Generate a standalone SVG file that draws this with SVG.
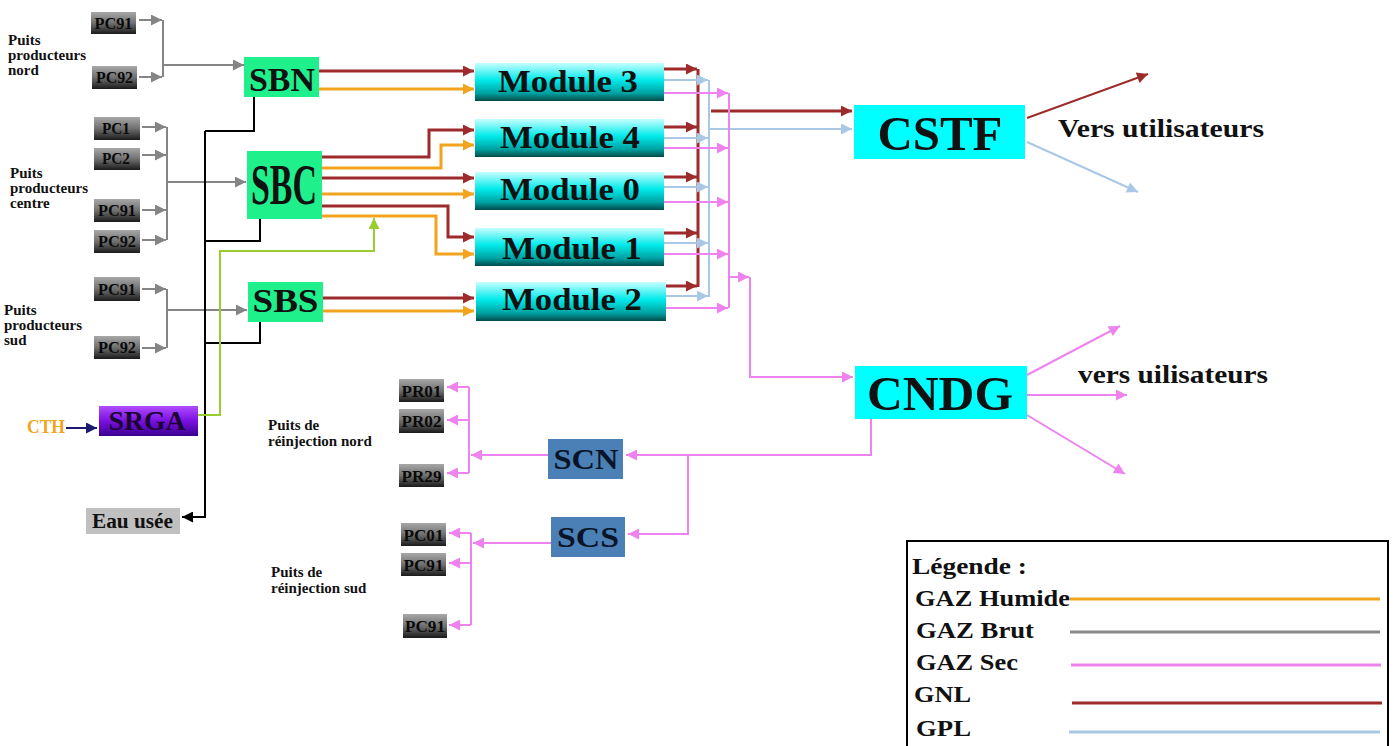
<svg xmlns="http://www.w3.org/2000/svg" width="1394" height="746" viewBox="0 0 1394 746">
<defs>
<style>
.t{font-family:"Liberation Serif","Times New Roman",serif;font-weight:bold;fill:#111}
.lbl{font-size:15px}
.pc{font-size:16px;text-anchor:middle;fill:#0a0a0a}
.big{text-anchor:middle}
.mod{font-size:31px;text-anchor:middle}
.leg{font-size:23px}
.gray{stroke:#858585;stroke-width:2}
.blk{stroke:#000;stroke-width:2}
.red{stroke:#9E2B2B;stroke-width:3}
.org{stroke:#F2A41E;stroke-width:3}
.pnk{stroke:#EE82EE;stroke-width:2}
.blu{stroke:#A9C8E6;stroke-width:2}
.grn{stroke:#9ACD32;stroke-width:2}
.nav{stroke:#1A1A6E;stroke-width:2}
</style>
<linearGradient id="gPC" x1="0" y1="0" x2="0" y2="1"><stop offset="0" stop-color="#a8a8a8"/><stop offset="0.5" stop-color="#707070"/><stop offset="1" stop-color="#1a1a1a"/></linearGradient>
<linearGradient id="gMod" x1="0" y1="0" x2="0" y2="1"><stop offset="0" stop-color="#C6FFFF"/><stop offset="0.45" stop-color="#00EAEA"/><stop offset="0.8" stop-color="#00A0A0"/><stop offset="1" stop-color="#004A4A"/></linearGradient>
<linearGradient id="gSR" x1="0" y1="0" x2="0" y2="1"><stop offset="0" stop-color="#B04CFF"/><stop offset="0.5" stop-color="#7A10E0"/><stop offset="1" stop-color="#3A0090"/></linearGradient>
<marker id="aG" viewBox="0 0 10 10" refX="10" refY="5" markerWidth="15" markerHeight="11" markerUnits="userSpaceOnUse" orient="auto"><path d="M0,0L10,5L0,10z" fill="#858585"/></marker>
<marker id="aK" viewBox="0 0 10 10" refX="10" refY="5" markerWidth="13" markerHeight="11" markerUnits="userSpaceOnUse" orient="auto"><path d="M0,0L10,5L0,10z" fill="#000"/></marker>
<marker id="aR" viewBox="0 0 10 10" refX="10" refY="5" markerWidth="14" markerHeight="11" markerUnits="userSpaceOnUse" orient="auto"><path d="M0,0L10,5L0,10z" fill="#9E2B2B"/></marker>
<marker id="aO" viewBox="0 0 10 10" refX="10" refY="5" markerWidth="14" markerHeight="11" markerUnits="userSpaceOnUse" orient="auto"><path d="M0,0L10,5L0,10z" fill="#F2A41E"/></marker>
<marker id="aP" viewBox="0 0 10 10" refX="10" refY="5" markerWidth="13" markerHeight="11" markerUnits="userSpaceOnUse" orient="auto"><path d="M0,0L10,5L0,10z" fill="#EE82EE"/></marker>
<marker id="aB" viewBox="0 0 10 10" refX="10" refY="5" markerWidth="13" markerHeight="11" markerUnits="userSpaceOnUse" orient="auto"><path d="M0,0L10,5L0,10z" fill="#A9C8E6"/></marker>
<marker id="aV" viewBox="0 0 10 10" refX="10" refY="5" markerWidth="13" markerHeight="11" markerUnits="userSpaceOnUse" orient="auto"><path d="M0,0L10,5L0,10z" fill="#9ACD32"/></marker>
<marker id="aN" viewBox="0 0 10 10" refX="10" refY="5" markerWidth="13" markerHeight="11" markerUnits="userSpaceOnUse" orient="auto"><path d="M0,0L10,5L0,10z" fill="#1A1A6E"/></marker>
</defs>
<rect width="1394" height="746" fill="#fff"/>

<g id="labels">
<text class="t lbl" x="8" y="45">Puits</text>
<text class="t lbl" x="8" y="60">producteurs</text>
<text class="t lbl" x="8" y="75">nord</text>
<text class="t lbl" x="10" y="178">Puits</text>
<text class="t lbl" x="10" y="193">producteurs</text>
<text class="t lbl" x="10" y="208">centre</text>
<text class="t lbl" x="4" y="315">Puits</text>
<text class="t lbl" x="4" y="330">producteurs</text>
<text class="t lbl" x="4" y="345">sud</text>
<text class="t lbl" x="268" y="430">Puits de</text>
<text class="t lbl" x="268" y="446">réinjection nord</text>
<text class="t lbl" x="271" y="577">Puits de</text>
<text class="t lbl" x="271" y="593">réinjection sud</text>
<text class="t" x="1058" y="137" font-size="25" textLength="206" lengthAdjust="spacingAndGlyphs">Vers utilisateurs</text>
<text class="t" x="1078" y="383" font-size="25" textLength="190" lengthAdjust="spacingAndGlyphs">vers uilisateurs</text>
<text class="t" x="27" y="433" font-size="18" style="fill:#F2A41E" textLength="38" lengthAdjust="spacingAndGlyphs">CTH</text>
</g>

<g id="connectors" fill="none">
<path class="gray" d="M163,20V77"/>
<path class="gray" d="M139,20H162" marker-end="url(#aG)"/>
<path class="gray" d="M139,77H162" marker-end="url(#aG)"/>
<path class="gray" d="M163,65H244" marker-end="url(#aG)"/>
<path class="gray" d="M167,127V240"/>
<path class="gray" d="M142,127H166" marker-end="url(#aG)"/>
<path class="gray" d="M142,155H166" marker-end="url(#aG)"/>
<path class="gray" d="M142,210H166" marker-end="url(#aG)"/>
<path class="gray" d="M142,240H166" marker-end="url(#aG)"/>
<path class="gray" d="M167,182H246" marker-end="url(#aG)"/>
<path class="gray" d="M167,289V348"/>
<path class="gray" d="M142,289H166" marker-end="url(#aG)"/>
<path class="gray" d="M142,348H166" marker-end="url(#aG)"/>
<path class="gray" d="M167,310H247" marker-end="url(#aG)"/>

<path class="blk" d="M254,97V131H205M260,219V241H205M260,322V343H205"/>
<path class="blk" d="M205,131V517H182" marker-end="url(#aK)"/>
<path class="grn" d="M198,415H220V251H374V218" marker-end="url(#aV)"/>
<path class="nav" d="M66,428H97" marker-end="url(#aN)"/>

<path class="red" d="M319,71H474" marker-end="url(#aR)"/>
<path class="org" d="M319,89H474" marker-end="url(#aO)"/>
<path class="red" d="M322,157H429V130H474" marker-end="url(#aR)"/>
<path class="org" d="M322,168H441V145H474" marker-end="url(#aO)"/>
<path class="red" d="M322,178H474" marker-end="url(#aR)"/>
<path class="org" d="M322,194H474" marker-end="url(#aO)"/>
<path class="red" d="M322,206H448V237H474" marker-end="url(#aR)"/>
<path class="org" d="M322,216H436V254H474" marker-end="url(#aO)"/>
<path class="red" d="M323,298H474" marker-end="url(#aR)"/>
<path class="org" d="M323,311H474" marker-end="url(#aO)"/>

<path class="red" d="M698,69V287"/>
<path class="red" d="M664,69H697" marker-end="url(#aR)"/>
<path class="red" d="M664,127H697" marker-end="url(#aR)"/>
<path class="red" d="M664,177H697" marker-end="url(#aR)"/>
<path class="red" d="M664,233H697" marker-end="url(#aR)"/>
<path class="red" d="M664,286H697" marker-end="url(#aR)"/>
<path class="red" d="M711,111H852" marker-end="url(#aR)"/>

<path class="blu" d="M709,80V297"/>
<path class="blu" d="M664,80H708" marker-end="url(#aB)"/>
<path class="blu" d="M664,138H708" marker-end="url(#aB)"/>
<path class="blu" d="M664,187H708" marker-end="url(#aB)"/>
<path class="blu" d="M664,243H708" marker-end="url(#aB)"/>
<path class="blu" d="M664,296H708" marker-end="url(#aB)"/>
<path class="blu" d="M709,129H852" marker-end="url(#aB)"/>

<path class="pnk" d="M729,93V308"/>
<path class="pnk" d="M664,93H728" marker-end="url(#aP)"/>
<path class="pnk" d="M664,148H728" marker-end="url(#aP)"/>
<path class="pnk" d="M664,202H728" marker-end="url(#aP)"/>
<path class="pnk" d="M664,254H728" marker-end="url(#aP)"/>
<path class="pnk" d="M664,308H728" marker-end="url(#aP)"/>
<path class="pnk" d="M729,277H749" marker-end="url(#aP)"/>
<path class="pnk" d="M750,277V377H853" marker-end="url(#aP)"/>

<path class="red" style="stroke-width:2" d="M1027,118L1148,74" marker-end="url(#aR)"/>
<path class="blu" d="M1027,142L1138,192" marker-end="url(#aB)"/>
<path class="pnk" d="M1027,375L1120,326" marker-end="url(#aP)"/>
<path class="pnk" d="M1027,395H1127" marker-end="url(#aP)"/>
<path class="pnk" d="M1027,415L1125,474" marker-end="url(#aP)"/>

<path class="pnk" d="M871,419V455H626" marker-end="url(#aP)"/>
<path class="pnk" d="M688,455V534H628" marker-end="url(#aP)"/>
<path class="pnk" d="M548,455H471" marker-end="url(#aP)"/>
<path class="pnk" d="M469,387V473"/>
<path class="pnk" d="M469,387H447" marker-end="url(#aP)"/>
<path class="pnk" d="M469,420H447" marker-end="url(#aP)"/>
<path class="pnk" d="M469,473H447" marker-end="url(#aP)"/>
<path class="pnk" d="M551,543H473" marker-end="url(#aP)"/>
<path class="pnk" d="M471,533V625"/>
<path class="pnk" d="M471,533H449" marker-end="url(#aP)"/>
<path class="pnk" d="M471,563H449" marker-end="url(#aP)"/>
<path class="pnk" d="M471,625H449" marker-end="url(#aP)"/>
</g>

<g id="PC91n"><rect x="91" y="12" width="45" height="22" fill="url(#gPC)"/><text class="t pc" x="113.5" y="29" textLength="38" lengthAdjust="spacingAndGlyphs">PC91</text></g>
<g id="PC92n"><rect x="92" y="66" width="45" height="23" fill="url(#gPC)"/><text class="t pc" x="114.5" y="83" textLength="37" lengthAdjust="spacingAndGlyphs">PC92</text></g>
<g id="PC1"><rect x="94" y="117" width="46" height="23" fill="url(#gPC)"/><text class="t pc" x="116" y="134" textLength="28" lengthAdjust="spacingAndGlyphs">PC1</text></g>
<g id="PC2"><rect x="94" y="148" width="46" height="22" fill="url(#gPC)"/><text class="t pc" x="116" y="164" textLength="28" lengthAdjust="spacingAndGlyphs">PC2</text></g>
<g id="PC91c"><rect x="94" y="199" width="46" height="23" fill="url(#gPC)"/><text class="t pc" x="117" y="216" textLength="38" lengthAdjust="spacingAndGlyphs">PC91</text></g>
<g id="PC92c"><rect x="94" y="230" width="46" height="23" fill="url(#gPC)"/><text class="t pc" x="117" y="247" textLength="38" lengthAdjust="spacingAndGlyphs">PC92</text></g>
<g id="PC91s"><rect x="94" y="277" width="46" height="24" fill="url(#gPC)"/><text class="t pc" x="117" y="295" textLength="38" lengthAdjust="spacingAndGlyphs">PC91</text></g>
<g id="PC92s"><rect x="94" y="336" width="46" height="23" fill="url(#gPC)"/><text class="t pc" x="117" y="353" textLength="38" lengthAdjust="spacingAndGlyphs">PC92</text></g>

<g id="SBN"><rect x="244" y="57" width="75" height="40" fill="#20F08C"/><text class="t big" x="282" y="91" font-size="34" textLength="66" lengthAdjust="spacingAndGlyphs">SBN</text></g>
<g id="SBC"><rect x="247" y="151" width="75" height="68" fill="#20F08C"/><text class="t big" x="284" y="204" font-size="58" textLength="66" lengthAdjust="spacingAndGlyphs">SBC</text></g>
<g id="SBS"><rect x="248" y="282" width="75" height="40" fill="#20F08C"/><text class="t big" x="285.5" y="312" font-size="33" textLength="66" lengthAdjust="spacingAndGlyphs">SBS</text></g>

<g id="SRGA"><rect x="99" y="406" width="99" height="30" fill="url(#gSR)"/><text class="t big" x="147" y="430" font-size="28" style="fill:#1A0033" textLength="77" lengthAdjust="spacingAndGlyphs">SRGA</text></g>
<g id="EauUsee"><rect x="86" y="508" width="94" height="26" fill="#C0C0C0"/><text class="t big" x="132.5" y="528" font-size="20" textLength="81" lengthAdjust="spacingAndGlyphs">Eau usée</text></g>

<g id="Module3"><rect x="475" y="63" width="189" height="38" fill="url(#gMod)"/><text class="t mod" x="568" y="92" textLength="140" lengthAdjust="spacingAndGlyphs">Module 3</text></g>
<g id="Module4"><rect x="475" y="119" width="189" height="38" fill="url(#gMod)"/><text class="t mod" x="570" y="148" textLength="140" lengthAdjust="spacingAndGlyphs">Module 4</text></g>
<g id="Module0"><rect x="475" y="172" width="189" height="38" fill="url(#gMod)"/><text class="t mod" x="570" y="200" textLength="140" lengthAdjust="spacingAndGlyphs">Module 0</text></g>
<g id="Module1"><rect x="475" y="228" width="189" height="38" fill="url(#gMod)"/><text class="t mod" x="572" y="259" textLength="140" lengthAdjust="spacingAndGlyphs">Module 1</text></g>
<g id="Module2"><rect x="476" y="282" width="190" height="39" fill="url(#gMod)"/><text class="t mod" x="572" y="310" textLength="140" lengthAdjust="spacingAndGlyphs">Module 2</text></g>

<g id="CSTF"><rect x="854" y="105" width="171" height="54" fill="#00FFFF"/><text class="t big" x="940" y="150" font-size="48" textLength="125" lengthAdjust="spacingAndGlyphs">CSTF</text></g>
<g id="CNDG"><rect x="855" y="366" width="172" height="53" fill="#00FFFF"/><text class="t big" x="940" y="410" font-size="48" textLength="146" lengthAdjust="spacingAndGlyphs">CNDG</text></g>

<g id="SCN"><rect x="548" y="439" width="75" height="40" fill="#4A80B6"/><text class="t big" x="586" y="469" font-size="30" style="fill:#0A1428" textLength="65" lengthAdjust="spacingAndGlyphs">SCN</text></g>
<g id="SCS"><rect x="551" y="517" width="74" height="40" fill="#4A80B6"/><text class="t big" x="588" y="547" font-size="30" style="fill:#0A1428" textLength="62" lengthAdjust="spacingAndGlyphs">SCS</text></g>

<g id="PR01"><rect x="399" y="379" width="45" height="23" fill="url(#gPC)"/><text class="t pc" x="421.5" y="397" textLength="40" lengthAdjust="spacingAndGlyphs">PR01</text></g>
<g id="PR02"><rect x="399" y="409" width="45" height="24" fill="url(#gPC)"/><text class="t pc" x="421.5" y="427" textLength="40" lengthAdjust="spacingAndGlyphs">PR02</text></g>
<g id="PR29"><rect x="399" y="464" width="45" height="23" fill="url(#gPC)"/><text class="t pc" x="421.5" y="482" textLength="40" lengthAdjust="spacingAndGlyphs">PR29</text></g>
<g id="PC01"><rect x="401" y="523" width="45" height="23" fill="url(#gPC)"/><text class="t pc" x="423.5" y="541" textLength="40" lengthAdjust="spacingAndGlyphs">PC01</text></g>
<g id="PC91r1"><rect x="401" y="553" width="45" height="23" fill="url(#gPC)"/><text class="t pc" x="423.5" y="571" textLength="40" lengthAdjust="spacingAndGlyphs">PC91</text></g>
<g id="PC91r2"><rect x="403" y="614" width="44" height="24" fill="url(#gPC)"/><text class="t pc" x="425" y="632" textLength="40" lengthAdjust="spacingAndGlyphs">PC91</text></g>

<g id="legend">
<rect x="907" y="541" width="481" height="215" fill="#fff" stroke="#000" stroke-width="2"/>
<text class="t leg" x="912" y="574" textLength="115" lengthAdjust="spacingAndGlyphs">Légende :</text>
<text class="t leg" x="915" y="606" textLength="155" lengthAdjust="spacingAndGlyphs">GAZ Humide</text>
<text class="t leg" x="916" y="638" textLength="118" lengthAdjust="spacingAndGlyphs">GAZ Brut</text>
<text class="t leg" x="916" y="670" textLength="102" lengthAdjust="spacingAndGlyphs">GAZ Sec</text>
<text class="t leg" x="914" y="702" textLength="57" lengthAdjust="spacingAndGlyphs">GNL</text>
<text class="t leg" x="916" y="736" textLength="55" lengthAdjust="spacingAndGlyphs">GPL</text>
<path d="M1070,599H1380" stroke="#F2A41E" stroke-width="3"/>
<path d="M1070,632H1380" stroke="#888" stroke-width="3"/>
<path d="M1071,665H1381" stroke="#EE82EE" stroke-width="3"/>
<path d="M1072,703H1382" stroke="#9E2B2B" stroke-width="3"/>
<path d="M1069,732H1380" stroke="#A9C8E6" stroke-width="3"/>
</g>
</svg>
